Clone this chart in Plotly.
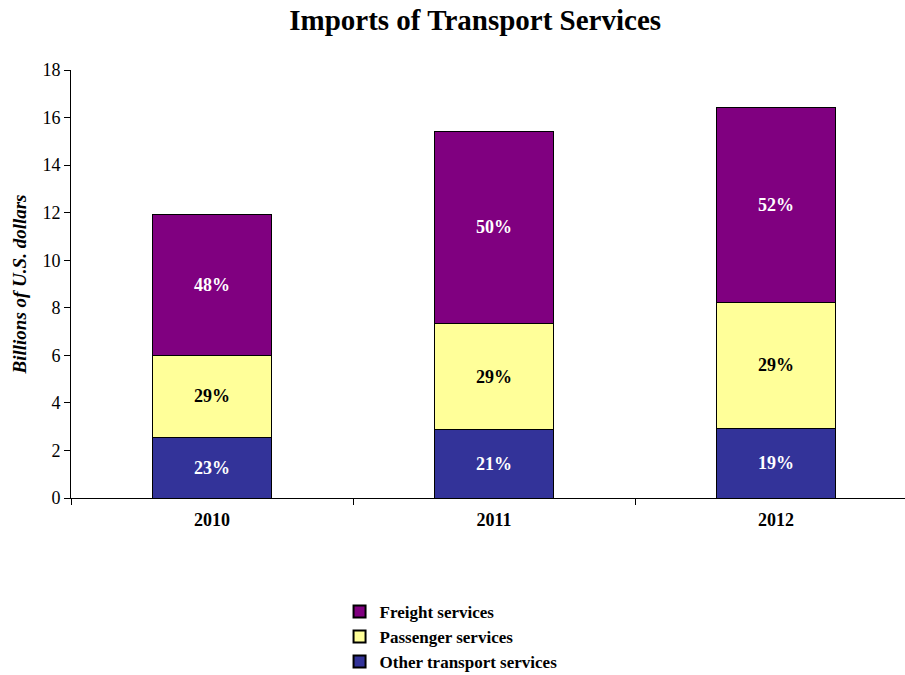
import plotly.graph_objects as go

years = ["2010", "2011", "2012"]

# Billions of U.S. dollars per segment
other_transport = [2.54, 2.88, 2.94]
passenger = [3.46, 4.45, 5.30]
freight = [5.92, 8.10, 8.19]

# Share of each year's total, shown inside the segments
other_share = ["23%", "21%", "19%"]
passenger_share = ["29%", "29%", "29%"]
freight_share = ["48%", "50%", "52%"]

serif = "Liberation Serif, Times New Roman, serif"

fig = go.Figure()

series = [
    ("Other transport services", other_transport, other_share, "#333399", "white"),
    ("Passenger services", passenger, passenger_share, "#FFFF99", "black"),
    ("Freight services", freight, freight_share, "#800080", "white"),
]

for name, vals, labels, color, txtcolor in series:
    fig.add_trace(go.Bar(
        name="<b>" + name + "</b>",
        x=years,
        y=vals,
        text=["<b>" + t + "</b>" for t in labels],
        textposition="inside",
        insidetextanchor="middle",
        textangle=0,
        textfont=dict(family=serif, size=18, color=txtcolor),
        marker=dict(color=color, line=dict(color="black", width=1)),
        width=0.42,
    ))

fig.update_layout(
    barmode="stack",
    width=905,
    height=675,
    paper_bgcolor="white",
    plot_bgcolor="white",
    margin=dict(l=71, r=0, t=70, b=177, autoexpand=False),
    title=dict(
        text="<b>Imports of Transport Services</b>",
        font=dict(family=serif, size=29, color="black"),
        x=0.525, xanchor="center", y=0.97, yanchor="middle",
    ),
    font=dict(family=serif, color="black"),
    showlegend=True,
    legend=dict(
        orientation="v",
        traceorder="reversed",
        x=0.322, xanchor="left",
        y=-0.224, yanchor="top",
        font=dict(family=serif, size=17, color="black"),
        itemsizing="constant",
        tracegroupgap=0,
        bgcolor="rgba(0,0,0,0)",
    ),
)

fig.update_xaxes(
    type="category",
    range=[-0.5, 2.457],
    showline=True, linecolor="black", linewidth=1,
    ticks="outside", tickson="boundaries", ticklen=6, tickcolor="black",
    tickfont=dict(family=serif, size=18, color="black"),
    tickprefix="<b>", ticksuffix="</b>",
    ticklabelstandoff=5,
    showgrid=False, zeroline=False,
)

fig.update_yaxes(
    range=[0, 18],
    dtick=2,
    showline=True, linecolor="black", linewidth=1,
    ticks="outside", ticklen=6, tickcolor="black",
    tickfont=dict(family=serif, size=18, color="black"),
    showgrid=False, zeroline=False,
    title=dict(
        text="<b><i>Billions of U.S. dollars</i></b>",
        font=dict(family=serif, size=19, color="black"),
        standoff=10,
    ),
)

fig.write_html("out.html")
